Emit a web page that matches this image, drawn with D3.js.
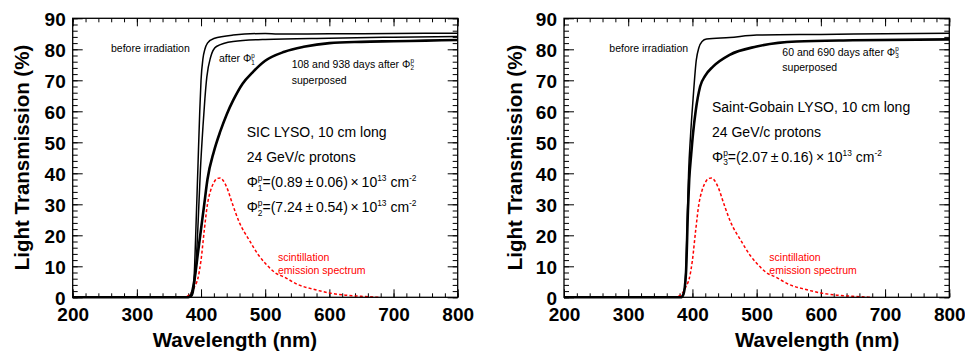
<!DOCTYPE html>
<html><head><meta charset="utf-8">
<script src="https://cdn.jsdelivr.net/npm/d3@7"></script>
<style>body{margin:0;background:#fff}svg{display:block}text{font-family:"Liberation Sans",Arial,sans-serif}</style>
</head><body><svg id="c" width="965" height="354"></svg>
<script>
// ---- data ----
const xTicks = [200, 300, 400, 500, 600, 700, 800];
const yTicks = [0, 10, 20, 30, 40, 50, 60, 70, 80, 90];

// Left panel: SIC LYSO
const wlBeforeL = [200, 380, 385, 388, 390, 392, 395, 398, 400, 403, 406, 410, 420, 450, 500, 520, 600, 700, 800];
const tBeforeL  = [0,   0,   0.5, 3,   10,  22,  41,  60,  70,  77,  80,  82,  83.5, 84.6, 85.1, 84.9, 85.0, 85.1, 85.2];
const wlAfterL  = [200, 382, 386, 389, 392, 395, 399, 403, 406, 409, 415, 424, 450, 500, 600, 700, 800];
const tAfterL   = [0,   0,   0.5, 3,   10,  22,  41,  55,  64,  71,  77.5, 80.9, 82.5, 83.2, 83.6, 83.9, 84.1];
const wlDaysL   = [200, 380, 385, 390, 395, 400, 405, 410, 420, 430, 440, 450, 465, 480, 500, 530, 560, 600, 650, 700, 750, 800];
const tDaysL    = [0,   0,   1,   6,   14,  22,  30,  38,  47,  53.5, 59, 63.5, 69, 72.5, 76.3, 79.2, 80.8, 82.0, 82.4, 82.6, 82.8, 83.0];

// Right panel: Saint-Gobain LYSO
const wlBeforeR = [200, 382, 385, 388, 390, 392, 394, 397, 401, 406, 410, 415, 422, 458, 500, 600, 700, 800];
const tBeforeR  = [0,   0,   0.5, 3,   10,  25,  40,  52,  64,  76.5, 80.5, 82.5, 83.3, 83.8, 84.6, 84.8, 85.0, 85.2];
const wlDaysR   = [200, 382, 386, 390, 393, 395, 398, 401, 405, 412, 420, 432, 458, 500, 562, 650, 800];
const tDaysR    = [0,   0,   1,   8,   28,  38,  46,  53,  60,  68,  71.5, 74.4, 78.2, 80.9, 82.5, 82.9, 83.2];

// Scintillation emission spectrum (same in both panels)
const wlEmission = [370, 378, 385, 390, 395, 400, 405, 410, 415, 420, 425, 430, 435, 440, 450, 460, 475, 490, 500, 515, 530, 550, 575, 600, 625, 650, 680];
const tEmission  = [0,   0.3, 1.5, 3.5, 6,   12,  21.5, 30, 34.5, 37, 38.3, 38.5, 37.5, 35.5, 29.5, 24, 18.5, 13.5, 11, 8, 6.5, 4.2, 2.6, 1.4, 0.7, 0.3, 0];

// ---- drawing ----
const svg = d3.select("#c");
const FONT = '"Liberation Sans",Arial,sans-serif';
const yTop = 18.3, yBottom = 297.3;

function zip(a, b) { return a.map((v, i) => [v, b[i]]); }

function panel(x0, x1, lines, opts) {
  const x = d3.scaleLinear().domain([200, 800]).range([x0, x1]);
  const y = d3.scaleLinear().domain([0, 90]).range([yBottom, yTop]);
  const g = svg.append("g");

  const minorX = d3.range(200, 801, 20), minorY = d3.range(0, 91, 2);
  function ax(gen, tr, vals, size, labels) {
    const a = gen.tickValues(vals).tickSizeInner(-size).tickSizeOuter(0).tickPadding(labels ? 6 : 0);
    if (!labels) a.tickFormat("");
    const s = g.append("g").attr("transform", tr).call(a);
    s.select(".domain").remove();
    s.selectAll("line").attr("stroke", "#000").attr("stroke-width", 1);
    return s;
  }
  // minor
  ax(d3.axisBottom(x), `translate(0,${yBottom})`, minorX, 4, false);
  ax(d3.axisTop(x), `translate(0,${yTop})`, minorX, 4, false);
  ax(d3.axisLeft(y), `translate(${x0},0)`, minorY, 5, false);
  ax(d3.axisRight(y), `translate(${x1},0)`, minorY, 5, false);
  // major
  const bx = ax(d3.axisBottom(x), `translate(0,${yBottom})`, xTicks, 8, true);
  ax(d3.axisTop(x), `translate(0,${yTop})`, xTicks, 8, false);
  const ly = ax(d3.axisLeft(y), `translate(${x0},0)`, yTicks, 10, true);
  ax(d3.axisRight(y), `translate(${x1},0)`, yTicks, 10, false);
  bx.selectAll("text").attr("font-family", FONT).attr("font-size", 19).attr("font-weight", "bold").attr("fill", "#000").attr("y", 0).attr("dy", 23.5);
  ly.selectAll("text").attr("font-family", FONT).attr("font-size", 19).attr("font-weight", "bold").attr("fill", "#000").attr("x", -7).attr("dy", "0.36em");

  // curves
  const line = d3.line().x(d => x(d[0])).y(d => y(d[1])).curve(d3.curveMonotoneX);
  lines.forEach(L => {
    g.append("path").attr("d", line(zip(L.wl, L.t))).attr("fill", "none")
      .attr("stroke", L.color || "#000").attr("stroke-width", L.w)
      .attr("stroke-dasharray", L.dash || null);
  });

  // frame
  g.append("rect").attr("x", x0).attr("y", yTop).attr("width", x1 - x0).attr("height", yBottom - yTop)
    .attr("fill", "none").attr("stroke", "#000").attr("stroke-width", 1.3);

  // titles
  g.append("text").attr("transform", `translate(${opts.yTitleX},157.5) rotate(-90)`)
    .attr("text-anchor", "middle").attr("font-size", 20.5).attr("font-weight", "bold").text("Light Transmission (%)");
  g.append("text").attr("x", opts.xTitleX).attr("y", 347).attr("font-size", 20.5).attr("font-weight", "bold").text("Wavelength (nm)");
  return g;
}

// text with Φ^p_n notation followed by rich runs
function rich(g, x, yb, fs, runs, color) {
  const t = g.append("text").attr("x", x).attr("y", yb).attr("font-size", fs).attr("fill", color || "#000");
  let shift = 0;
  runs.forEach(r => {
    const s = t.append("tspan");
    let target = 0, size = fs;
    if (r.sup) { target = -fs * 0.42; size = fs * 0.6; }
    if (r.sub) { target = fs * 0.28; size = fs * 0.6; }
    s.attr("font-size", size).attr("dy", target - shift);
    if (r.dx) s.attr("dx", r.dx);
    shift = target;
    s.text(r.s);
  });
  return t;
}
function phi(n, fs) {
  return [{s: "\u03A6"}, {s: "p", sup: true}, {s: String(n), sub: true, dx: -fs * 0.6 * 0.556}];
}

// Left panel
const gL = panel(72.7, 457.7, [
  {wl: wlEmission, t: tEmission, color: "#ff0000", w: 1.5, dash: "3,2.2"},
  {wl: wlBeforeL, t: tBeforeL, w: 1.5},
  {wl: wlAfterL, t: tAfterL, w: 1.5},
  {wl: wlDaysL, t: tDaysL, w: 2.6}
], {yTitleX: 28.5, xTitleX: 152.7});

rich(gL, 111, 52, 10.5, [{s: "before irradiation"}]);
rich(gL, 219, 62, 10.5, [{s: "after "}].concat(phi(1, 10.5)));
rich(gL, 291.7, 67.5, 10.5, [{s: "108 and 938 days after "}].concat(phi(2, 10.5)));
rich(gL, 291.7, 83.5, 10.5, [{s: "superposed"}]);
rich(gL, 246.7, 137, 14, [{s: "SIC LYSO, 10 cm long"}]);
rich(gL, 246.7, 162, 14, [{s: "24 GeV/c protons"}]);
rich(gL, 246.7, 187, 14, phi(1, 14).concat([{s: "=(0.89\u2009\u00B1\u20090.06)\u2009\u00D7\u200910"}, {s: "13", sup: true}, {s: " cm"}, {s: "-2", sup: true}]));
rich(gL, 246.7, 212, 14, phi(2, 14).concat([{s: "=(7.24\u2009\u00B1\u20090.54)\u2009\u00D7\u200910"}, {s: "13", sup: true}, {s: " cm"}, {s: "-2", sup: true}]));
rich(gL, 278, 261, 10.5, [{s: "scintillation"}], "#ff0000");
rich(gL, 278, 273.5, 10.5, [{s: "emission spectrum"}], "#ff0000");

// Right panel
const gR = panel(564, 949.3, [
  {wl: wlEmission, t: tEmission, color: "#ff0000", w: 1.5, dash: "3,2.2"},
  {wl: wlBeforeR, t: tBeforeR, w: 1.5},
  {wl: wlDaysR, t: tDaysR, w: 2.6}
], {yTitleX: 521.5, xTitleX: 735});

rich(gR, 609.3, 52, 10.5, [{s: "before irradiation"}]);
rich(gR, 782.3, 55.5, 10.5, [{s: "60 and 690 days after "}].concat(phi(3, 10.5)));
rich(gR, 782.3, 71, 10.5, [{s: "superposed"}]);
rich(gR, 712, 112, 14, [{s: "Saint-Gobain LYSO, 10 cm long"}]);
rich(gR, 712, 137, 14, [{s: "24 GeV/c protons"}]);
rich(gR, 712, 161.5, 14, phi(3, 14).concat([{s: "=(2.07\u2009\u00B1\u20090.16)\u2009\u00D7\u200910"}, {s: "13", sup: true}, {s: " cm"}, {s: "-2", sup: true}]));
rich(gR, 769.3, 261, 10.5, [{s: "scintillation"}], "#ff0000");
rich(gR, 769.3, 273.5, 10.5, [{s: "emission spectrum"}], "#ff0000");
</script></body></html>
